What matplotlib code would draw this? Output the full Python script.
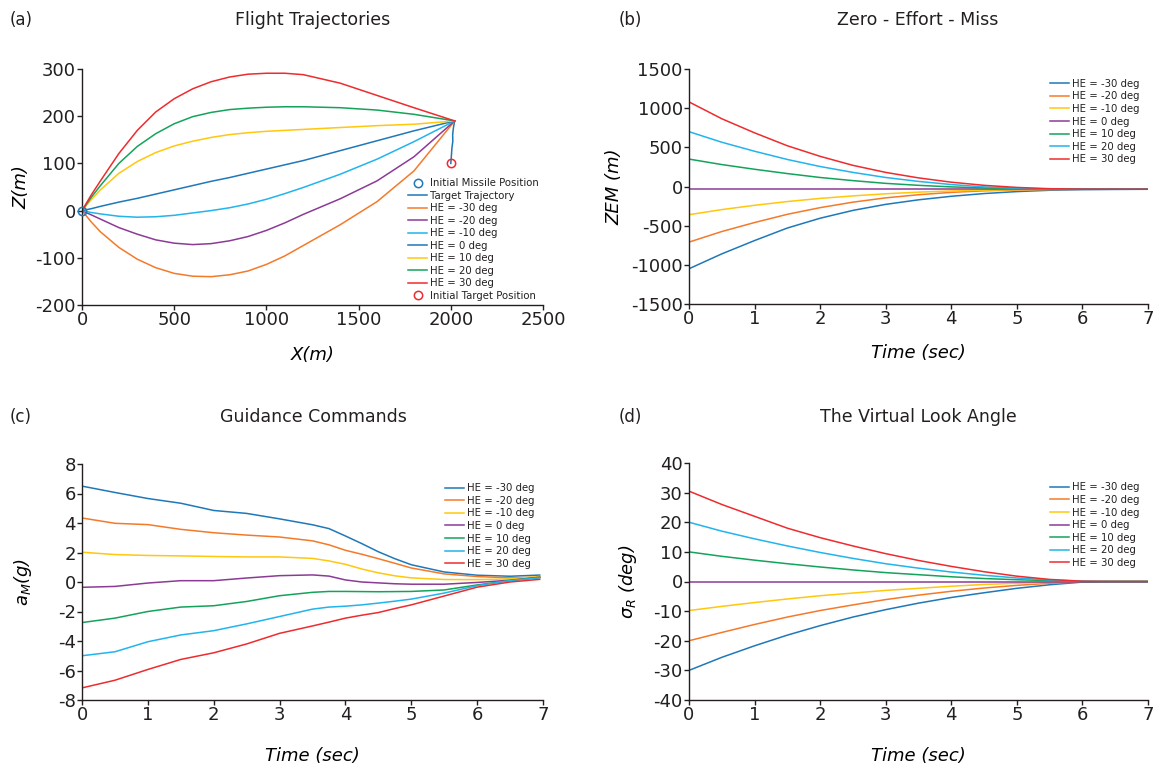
import matplotlib
matplotlib.use("Agg")
import matplotlib.pyplot as plt

# colours used for the heading-error cases
BLUE = "#1f78b8"
ORANGE = "#f47a2a"
YELLOW = "#ffc70d"
PURPLE = "#8c3a96"
GREEN = "#14a35a"
LBLUE = "#22b4ec"
RED = "#ee2b2e"
TXT = "#231f20"

# ---- (a) flight trajectories -------------------------------------------
x_traj = [0, 50, 100, 200, 300, 400, 500, 600, 700, 800, 900, 1000, 1100, 1200, 1400, 1600, 1800, 2021]
z_m30 = [0, -24, -45, -78, -103, -121, -133, -139, -140, -136, -128, -114, -96, -74, -30, 19, 84, 190]
z_m20 = [0, -9, -18, -36, -50, -62, -69, -72, -70, -64, -55, -42, -26, -8, 25, 63, 114, 190]
z_m10 = [0, -4, -7, -12, -14, -13, -10, -5, 0, 6, 14, 24, 36, 49, 77, 109, 146, 190]
z_0 = [0, 4, 9, 18, 26, 35, 44, 53, 62, 70, 79, 88, 97, 106, 127, 148, 169, 190]
z_p10 = [0, 23, 44, 79, 104, 123, 137, 147, 155, 161, 165, 168, 170, 172, 176, 180, 183, 190]
z_p20 = [0, 28, 53, 100, 136, 163, 184, 199, 208, 214, 217, 219, 220, 220, 218, 213, 204, 190]
z_p30 = [0, 33, 63, 121, 170, 209, 237, 258, 273, 283, 289, 291, 291, 288, 270, 244, 218, 190]

x_target = [2000, 2003, 2006, 2011, 2010, 2014, 2021]
z_target = [100, 115, 132, 147, 160, 175, 190]

missile_x0, missile_z0 = 0, 0
target_x0, target_z0 = 2000, 100

he_labels = ["HE = -30 deg", "HE = -20 deg", "HE = -10 deg", "HE = 0 deg",
             "HE = 10 deg", "HE = 20 deg", "HE = 30 deg"]

# ---- (b) zero effort miss ----------------------------------------------
t_half = [0, 0.5, 1, 1.5, 2, 2.5, 3, 3.5, 4, 4.5, 5, 5.5, 6, 6.5, 7]
zem = [
    [-1050, -860, -690, -530, -405, -305, -228, -170, -125, -90, -65, -48, -40, -37, -35],
    [-710, -575, -460, -355, -270, -200, -145, -105, -75, -55, -44, -38, -36, -35, -35],
    [-360, -295, -240, -192, -152, -120, -93, -72, -57, -46, -40, -37, -35, -35, -35],
    [-35, -35, -35, -35, -35, -35, -35, -35, -35, -35, -35, -35, -35, -35, -35],
    [350, 280, 220, 165, 115, 75, 40, 15, -5, -18, -28, -33, -35, -35, -35],
    [700, 565, 450, 345, 255, 180, 115, 65, 25, -5, -22, -32, -35, -35, -35],
    [1080, 865, 685, 520, 385, 270, 180, 110, 55, 15, -12, -28, -34, -35, -35],
]

# ---- (c) guidance commands ---------------------------------------------
t_cmd = [0, 0.5, 1, 1.5, 2, 2.5, 3, 3.5, 3.75, 4, 4.25, 4.5, 4.75, 5, 5.5, 6, 6.5, 6.95]
acc = [
    [6.5, 6.07, 5.66, 5.34, 4.85, 4.65, 4.28, 3.88, 3.62, 3.12, 2.6, 2.05, 1.58, 1.17, 0.68, 0.46, 0.39, 0.47],
    [4.34, 3.98, 3.89, 3.57, 3.34, 3.18, 3.05, 2.79, 2.52, 2.15, 1.88, 1.58, 1.27, 0.95, 0.55, 0.37, 0.28, 0.33],
    [2.02, 1.86, 1.8, 1.77, 1.73, 1.7, 1.7, 1.6, 1.43, 1.2, 0.88, 0.62, 0.42, 0.28, 0.17, 0.16, 0.21, 0.37],
    [-0.36, -0.3, -0.07, 0.09, 0.09, 0.27, 0.43, 0.48, 0.4, 0.14, 0.0, -0.06, -0.12, -0.15, -0.15, -0.03, 0.12, 0.32],
    [-2.75, -2.45, -2.0, -1.7, -1.61, -1.32, -0.93, -0.7, -0.64, -0.64, -0.65, -0.66, -0.65, -0.64, -0.54, -0.2, 0.1, 0.32],
    [-5.0, -4.73, -4.05, -3.59, -3.3, -2.84, -2.34, -1.84, -1.7, -1.64, -1.55, -1.43, -1.3, -1.16, -0.75, -0.25, 0.1, 0.28],
    [-7.18, -6.66, -5.93, -5.25, -4.8, -4.2, -3.48, -2.98, -2.72, -2.45, -2.25, -2.07, -1.8, -1.55, -0.95, -0.35, 0.0, 0.18],
]

# ---- (d) virtual look angle --------------------------------------------
sigma = [
    [-30, -25.6, -21.7, -18.1, -14.9, -12.0, -9.5, -7.3, -5.4, -3.8, -2.3, -1.1, -0.2, 0, 0],
    [-20, -17.2, -14.5, -12.0, -9.8, -7.9, -6.1, -4.6, -3.3, -2.2, -1.3, -0.6, -0.1, 0, 0],
    [-9.8, -8.4, -7.1, -5.9, -4.8, -3.9, -3.0, -2.3, -1.6, -1.0, -0.6, -0.3, 0, 0, 0],
    [0, 0, 0, 0, 0, 0, 0, 0, 0, 0, 0, 0, 0, 0, 0],
    [10, 8.5, 7.2, 6.0, 4.9, 3.9, 3.0, 2.3, 1.6, 1.0, 0.6, 0.3, 0, 0, 0],
    [20, 17, 14.4, 12.0, 9.8, 7.8, 6.0, 4.5, 3.2, 2.1, 1.2, 0.5, 0.1, 0, 0],
    [30.5, 26, 22, 18, 14.8, 12, 9.4, 7.1, 5.1, 3.3, 1.8, 0.7, 0.1, 0, 0],
]

time_colors = [BLUE, ORANGE, YELLOW, PURPLE, GREEN, LBLUE, RED]

plt.rcParams["font.family"] = "DejaVu Sans"
plt.rcParams["text.color"] = TXT
plt.rcParams["axes.unicode_minus"] = False

W, H = 1154, 768
fig = plt.figure(figsize=(W / 100, H / 100), dpi=100)


def px_axes(left, top, right, bottom):
    return fig.add_axes([left / W, 1 - bottom / H, (right - left) / W, (bottom - top) / H])


def style(ax):
    for s in ("top", "right"):
        ax.spines[s].set_visible(False)
    for s in ("left", "bottom"):
        ax.spines[s].set_linewidth(1.0)
        ax.spines[s].set_color(TXT)
    ax.tick_params(direction="out", length=3.5, width=1.0, labelsize=13,
                   colors=TXT, pad=1)


def small_legend(ax, **kw):
    leg = ax.legend(frameon=False, fontsize=7.3, labelspacing=0.25, handlelength=1.9,
                    handletextpad=0.3, borderaxespad=0, **kw)
    return leg


ax_a = px_axes(82, 69, 543, 305)
ax_b = px_axes(689, 69, 1148, 304)
ax_c = px_axes(82, 464, 543, 700)
ax_d = px_axes(689, 463, 1148, 700)

lw = 1.1

# (a)
ax_a.plot(missile_x0, missile_z0, "o", mfc="none", mec=BLUE, ms=6, mew=1.1,
          label="Initial Missile Position", clip_on=False, zorder=5)
ax_a.plot(x_target, z_target, color=BLUE, lw=lw, label="Target Trajectory")
traj = [z_m30, z_m20, z_m10, z_0, z_p10, z_p20, z_p30]
traj_colors = [ORANGE, PURPLE, LBLUE, BLUE, YELLOW, GREEN, RED]
for z, c, lab in zip(traj, traj_colors, he_labels):
    ax_a.plot(x_traj, z, color=c, lw=lw, label=lab)
ax_a.plot(target_x0, target_z0, "o", mfc="none", mec=RED, ms=6, mew=1.1,
          label="Initial Target Position", zorder=5)
ax_a.set_xlim(0, 2500)
ax_a.set_ylim(-200, 300)
ax_a.set_xticks([0, 500, 1000, 1500, 2000, 2500])
ax_a.set_yticks([-200, -100, 0, 100, 200, 300])
style(ax_a)
small_legend(ax_a, loc="lower right", bbox_to_anchor=(1.0, 0.0))
ax_a.set_xlabel("X(m)", fontsize=13, style="italic")
ax_a.set_ylabel("Z(m)", fontsize=13, style="italic")
ax_a.xaxis.set_label_coords(0.5, -0.175)
ax_a.yaxis.set_label_coords(-0.111, 0.5)

# (b)
for y, c, lab in zip(zem, time_colors, he_labels):
    ax_b.plot(t_half, y, color=c, lw=lw, label=lab)
ax_b.set_xlim(0, 7)
ax_b.set_ylim(-1500, 1500)
ax_b.set_yticks([-1500, -1000, -500, 0, 500, 1000, 1500])
style(ax_b)
small_legend(ax_b, loc="upper right", bbox_to_anchor=(0.99, 0.975))
ax_b.set_xlabel("Time (sec)", fontsize=13, style="italic")
ax_b.set_ylabel("ZEM (m)", fontsize=13, style="italic")
ax_b.xaxis.set_label_coords(0.5, -0.172)
ax_b.yaxis.set_label_coords(-0.144, 0.5)

# (c)
for y, c, lab in zip(acc, time_colors, he_labels):
    ax_c.plot(t_cmd, y, color=c, lw=lw, label=lab)
ax_c.set_xlim(0, 7)
ax_c.set_ylim(-8, 8)
ax_c.set_yticks(range(-8, 9, 2))
style(ax_c)
small_legend(ax_c, loc="upper right", bbox_to_anchor=(0.99, 0.935))
ax_c.set_xlabel("Time (sec)", fontsize=13, style="italic")
ax_c.set_ylabel(r"$a_M$(g)", fontsize=13, style="italic")
ax_c.xaxis.set_label_coords(0.5, -0.2)
ax_c.yaxis.set_label_coords(-0.104, 0.5)

# (d)
for y, c, lab in zip(sigma, time_colors, he_labels):
    ax_d.plot(t_half, y, color=c, lw=lw, label=lab)
ax_d.set_xlim(0, 7)
ax_d.set_ylim(-40, 40)
ax_d.set_yticks(range(-40, 41, 10))
style(ax_d)
small_legend(ax_d, loc="upper right", bbox_to_anchor=(0.99, 0.935))
ax_d.set_xlabel("Time (sec)", fontsize=13, style="italic")
ax_d.set_ylabel(r"$\sigma_R$ (deg)", fontsize=13, style="italic")
ax_d.xaxis.set_label_coords(0.5, -0.2)
ax_d.yaxis.set_label_coords(-0.109, 0.5)

# panel titles and letters
titles = [("(a)", 10, 20, "Flight Trajectories", 313),
          ("(b)", 619, 20, "Zero - Effort - Miss", 918),
          ("(c)", 10, 417, "Guidance Commands", 313),
          ("(d)", 619, 417, "The Virtual Look Angle", 918)]
for tag, tx, ty, name, cx in titles:
    fig.text(tx / W, 1 - ty / H, tag, fontsize=12, ha="left", va="center")
    fig.text(cx / W, 1 - ty / H, name, fontsize=12.5, ha="center", va="center")

fig.savefig("out.png", dpi=100, facecolor="white")
